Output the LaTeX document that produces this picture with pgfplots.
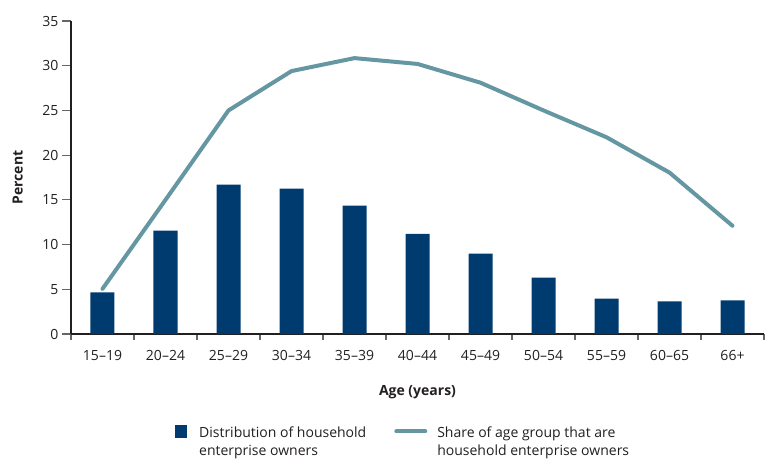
\documentclass[border=0pt]{standalone}
\usepackage{fontspec}
\setmainfont{Open Sans}
\usepackage{pgfplots}
\pgfplotsset{compat=1.18}
\definecolor{barblue}{RGB}{0,59,111}
\definecolor{sharecol}{RGB}{100,151,162}
\definecolor{axiscol}{RGB}{35,31,32}

\begin{document}
\begin{tikzpicture}
\begin{axis}[
    scale only axis,
    width=693pt, height=313pt,
    xmin=-0.5, xmax=10.5,
    ymin=0, ymax=35,
    axis lines*=left,
    axis line style={axiscol, line width=1.6pt},
    xtick={0,...,10},
    xticklabels={15--19,20--24,25--29,30--34,35--39,40--44,45--49,50--54,55--59,60--65,66+},
    major x tick style={draw=none},
    minor xtick={-0.5,0.5,...,10.5},
    minor x tick style={gray!80!black, line width=1.2pt},
    minor tick length=6pt,
    ytick={0,5,...,35},
    y tick style={gray!80!black, line width=1.2pt},
    major tick length=9pt,
    tick align=outside,
    tick label style={font=\fontsize{14}{16}\selectfont, text=axiscol},
    x tick label style={yshift=-4pt},
    /pgf/number format/assume math mode=true,
    xlabel={\textbf{Age (years)}},
    ylabel={\textbf{Percent}},
    label style={font=\fontsize{14}{16}\selectfont, text=axiscol},
    xlabel style={at={(axis description cs:0.5,-0.185)}, anchor=center},
    ylabel style={at={(axis description cs:-0.077,0.5)}, anchor=center},
    legend columns=2,
    legend style={at={(axis description cs:0.15,-0.25)}, anchor=north west,
        draw=none, font=\fontsize{14}{18.5}\selectfont, text=axiscol,
        inner sep=0pt,
        cells={anchor=north west, align=left},
        /tikz/every even column/.append style={column sep=26pt}},
]
\addplot[fill=barblue, draw=none, ybar, bar width=24pt,
    legend image code/.code={\path[draw=none, fill=none] (0pt,-16pt) rectangle (22pt,12pt);
        \fill[barblue] (0pt,-13.5pt) rectangle (12pt,-1pt);}]
    coordinates {
    (0,4.65) (1,11.55) (2,16.7) (3,16.25) (4,14.35) (5,11.2)
    (6,9.0) (7,6.3) (8,3.95) (9,3.65) (10,3.75)
};
\addlegendentry{Distribution of household\\enterprise owners}

\addplot[sharecol, line width=4pt, line cap=round, line join=round,
    legend image code/.code={\path[draw=none, fill=none] (0pt,-16pt) rectangle (41pt,12pt);
        \draw[sharecol, line width=4pt, line cap=round] (2pt,-7pt) -- (31pt,-7pt);}]
    coordinates {
    (0,5.05) (1,15.0) (2,25.0) (3,29.4) (4,30.85) (5,30.2)
    (6,28.1) (7,25.0) (8,22.0) (9,18.05) (10,12.1)
};
\addlegendentry{Share of age group that are\\household enterprise owners}
\end{axis}
\pgfresetboundingbox
\path[use as bounding box] (-71pt,-127pt) rectangle (695pt,334pt);
\end{tikzpicture}
\end{document}
